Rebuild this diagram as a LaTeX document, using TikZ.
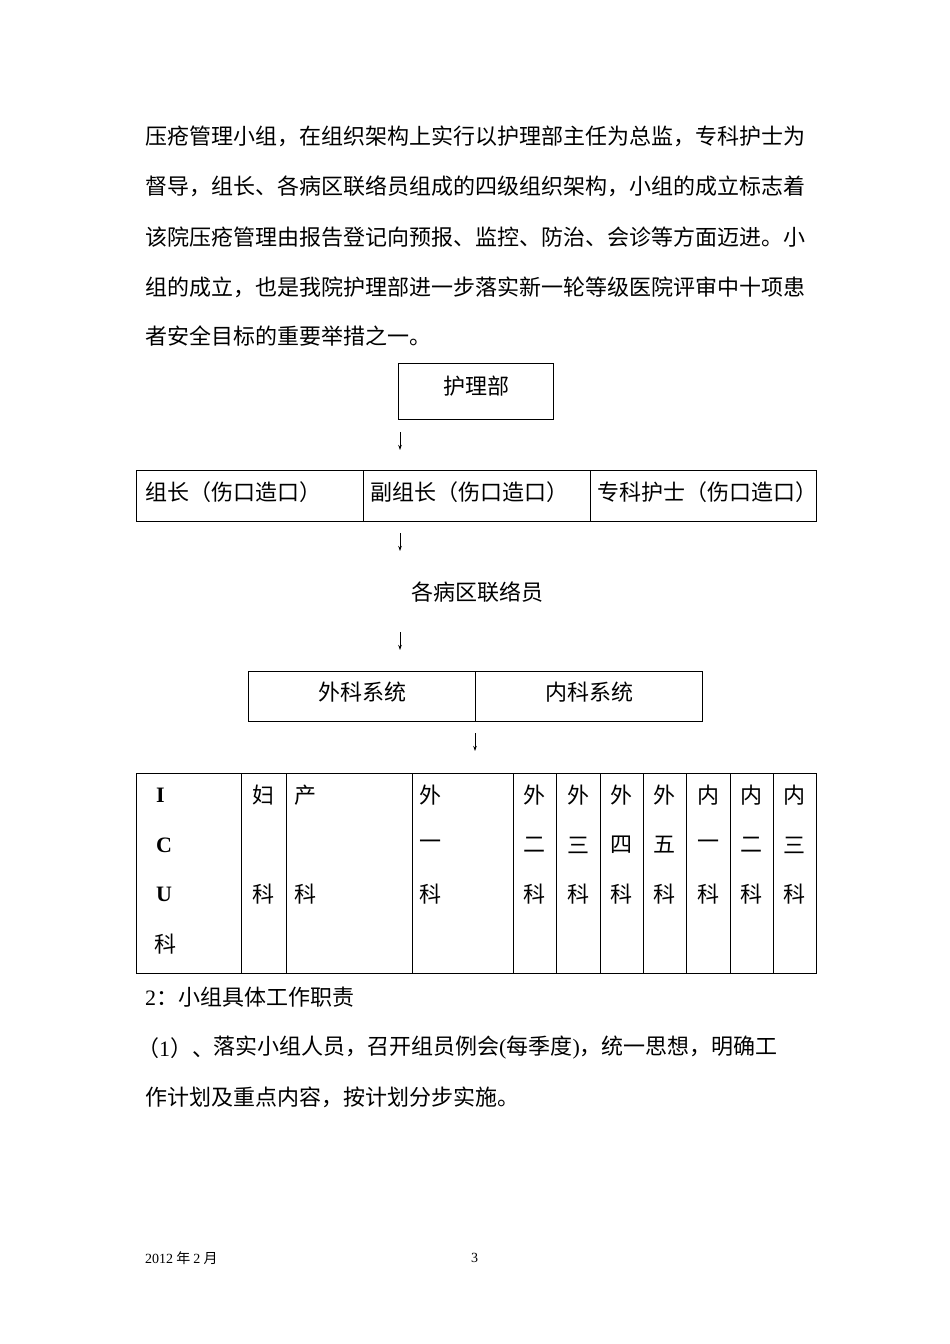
\documentclass[tikz,border=0pt]{standalone}
\usepackage{fontspec}
\setmainfont{Liberation Serif}
\newfontfamily\cjk{Noto Sans CJK SC}
\usetikzlibrary{arrows.meta}
\begin{document}
\begin{tikzpicture}[x=1pt,y=-1pt,
 t/.style={inner sep=0pt,anchor=west,font=\cjk\fontsize{22}{22}\selectfont},
 tc/.style={t,anchor=center},
 ft/.style={inner sep=0pt,anchor=west,font=\cjk\fontsize{14}{14}\selectfont},
 cell/.style={draw,line width=0.9pt,inner sep=0pt,anchor=north west},
 dn/.style={-{Stealth[length=5pt,width=3.5pt]},line width=0.8pt}]
\useasboundingbox[fill=white] (0,0) rectangle (950,1344);
% paragraph
\node[t] (p1) at (145,136) {压疮管理小组，在组织架构上实行以护理部主任为总监，专科护士为};
\node[t] (p2) at (145,186) {督导，组长、各病区联络员组成的四级组织架构，小组的成立标志着};
\node[t] (p3) at (145,237) {该院压疮管理由报告登记向预报、监控、防治、会诊等方面迈进。小};
\node[t] (p4) at (145,287) {组的成立，也是我院护理部进一步落实新一轮等级医院评审中十项患};
\node[t] (p5) at (145,336) {者安全目标的重要举措之一。};
% level 1
\node[cell,minimum width=155pt,minimum height=56pt] (hl) at (398,363) {};
\node[tc] (hlt) at (476,386) {护理部};
\coordinate (a1s) at (400,432); \coordinate (a1e) at (400,450);
\draw[dn] (a1s) -- (a1e);
% level 2
\node[cell,minimum width=227pt,minimum height=51pt] (c1) at (136,470) {};
\node[cell,minimum width=227pt,minimum height=51pt] (c2) at (363,470) {};
\node[cell,minimum width=226pt,minimum height=51pt] (c3) at (590,470) {};
\node[t] (c1t) at (145,492) {组长（伤口造口）};
\node[t] (c2t) at (370,492) {副组长（伤口造口）};
\node[t] (c3t) at (597,492) {专科护士（伤口造口）};
\coordinate (a2s) at (400,533); \coordinate (a2e) at (400,551);
\draw[dn] (a2s) -- (a2e);
% level 3
\node[tc] (lx) at (477,592) {各病区联络员};
\coordinate (a3s) at (400,632); \coordinate (a3e) at (400,650);
\draw[dn] (a3s) -- (a3e);
% level 4
\node[cell,minimum width=227pt,minimum height=50pt] (s1) at (248,671) {};
\node[cell,minimum width=227pt,minimum height=50pt] (s2) at (475,671) {};
\node[tc] (s1t) at (362,692) {外科系统};
\node[tc] (s2t) at (589,692) {内科系统};
\coordinate (a4s) at (475,733); \coordinate (a4e) at (475,751);
\draw[dn] (a4s) -- (a4e);
% table
\foreach \a/\b [count=\i] in {136/241,241/286,286/412,412/513,513/556,556/600,600/643,643/686,686/730,730/773,773/816}{
  \pgfmathsetmacro{\w}{\b-\a}
  \node[cell,minimum width=\w pt,minimum height=200pt] (col\i) at (\a,773) {};
}
\node[t] (icu1) at (156,795) {\rmfamily\bfseries I};
\node[t] (icu2) at (156,845) {\rmfamily\bfseries C};
\node[t] (icu3) at (156,894) {\rmfamily\bfseries U};
\node[t] (icu4) at (154,944) {科};
\node[tc] (f1) at (263,795) {妇};
\node[tc] (f3) at (263,894) {科};
\node[t] (ch1) at (294,795) {产};
\node[t] (ch3) at (294,894) {科};
\node[t] (w11) at (419,795) {外};
\node[t] (w12) at (419,845) {一};
\node[t] (w13) at (419,894) {科};
\foreach \x/\p/\q [count=\j] in {534.5/外/二,578/外/三,621.5/外/四,664.5/外/五,708/内/一,751.5/内/二,794.5/内/三}{
  \node[tc] (k\j a) at (\x,795) {\p};
  \node[tc] (k\j b) at (\x,845) {\q};
  \node[tc] (k\j c) at (\x,894) {科};
}
% section 2
\node[t] (h2) at (145,997) {{\rmfamily 2}：小组具体工作职责};
\node[t] (i1a) at (137,1048) {（{\rmfamily 1}）、};
\node[t] (i1b) at (213,1048) {落实小组人员，召开组员例会{\rmfamily (}每季度{\rmfamily )}，统一思想，明确工};
\node[t] (i2) at (145,1097) {作计划及重点内容，按计划分步实施。};
% footer
\node[ft] (fd) at (145,1258) {{\rmfamily 2012} 年 {\rmfamily 2} 月};
\node[ft] (fp) at (471,1258) {\rmfamily 3};
\end{tikzpicture}
\end{document}
